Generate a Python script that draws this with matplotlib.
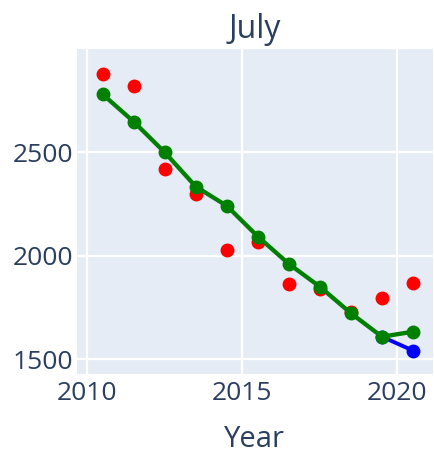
import matplotlib
matplotlib.use("Agg")
import matplotlib.pyplot as plt

# Data
years = [2010.5, 2011.5, 2012.5, 2013.5, 2014.5, 2015.5, 2016.5, 2017.5, 2018.5, 2019.5, 2020.5]
observed = [2878, 2818, 2416, 2296, 2027, 2067, 1863, 1838, 1730, 1794, 1867]
trend = [2778, 2646, 2498, 2333, 2240, 2092, 1960, 1850, 1722, 1609, 1633]
forecast_years = [2019.5, 2020.5]
forecast = [1609, 1542]

xticks = [2010, 2015, 2020]
yticks = [1500, 2000, 2500]

text_color = '#2a3f5f'
plt.rcParams['font.family'] = ['Open Sans', 'DejaVu Sans']

fig = plt.figure(figsize=(4.35, 4.58), dpi=100)
ax = fig.add_axes([0.177, 0.1834, 0.818, 0.7096])
ax.set_facecolor('#E5ECF6')

# Observed points (background), forecast line, then trend line on top
ax.plot(years, observed, 'o', color='red', markersize=9, zorder=3)
ax.plot(forecast_years, forecast, '-o', color='blue', linewidth=2.8, markersize=9, zorder=4)
ax.plot(years, trend, '-o', color='green', linewidth=3.1, markersize=9, zorder=5)

ax.set_xlim(2009.67, 2021.14)
ax.set_ylim(1429, 2997)
ax.set_xticks(xticks)
ax.set_yticks(yticks)
ax.grid(True, color='white', linewidth=1.6)
ax.set_axisbelow(True)
ax.tick_params(length=0, labelsize=19, labelcolor=text_color)
ax.tick_params(axis='x', pad=5)
ax.tick_params(axis='y', pad=3)

for side in ['top', 'right', 'left', 'bottom']:
    ax.spines[side].set_visible(False)

ax.set_title('July', fontsize=23, color=text_color, pad=8)
ax.set_xlabel('Year', fontsize=21, color=text_color, labelpad=14)

fig.savefig('out.png', dpi=100)
